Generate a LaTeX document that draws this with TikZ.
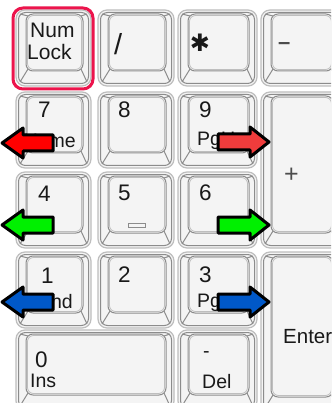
\documentclass[tikz,border=0pt]{standalone}
\usepackage{fontspec}
\setmainfont{Liberation Sans}
\newfontfamily\djv{DejaVu Sans}
\definecolor{keyfill}{RGB}{244,244,244}
\definecolor{keyline}{RGB}{140,140,140}
\definecolor{keylite}{RGB}{190,190,190}
\definecolor{nlred}{RGB}{236,20,76}
\definecolor{arred}{RGB}{255,0,0}
\definecolor{arred2}{RGB}{240,60,60}
\definecolor{argreen}{RGB}{0,240,0}
\definecolor{arblue}{RGB}{0,88,200}
\definecolor{txt}{RGB}{25,25,25}
\tikzset{
  lbl/.style={anchor=base west, inner sep=0pt, text=txt},
  dig/.style={lbl, font=\fontsize{22.5}{24}\selectfont},
  sub/.style={lbl, font=\fontsize{19.5}{21}\selectfont},
  arrowshape/.style={draw=black, line width=3pt, line join=round},
}
% x y w h : outer key; keytop insets: left 10, top 4, right 8, bottom 15
\newcommand\kbkey[4]{%
  \pgfmathsetmacro\kxa{#1}\pgfmathsetmacro\kya{#2}%
  \pgfmathsetmacro\kxb{#1+#3}\pgfmathsetmacro\kyb{#2+#4}%
  \pgfmathsetmacro\tla{#1+10}\pgfmathsetmacro\tta{#2+4}%
  \pgfmathsetmacro\tlb{#1+#3-8}\pgfmathsetmacro\ttb{#2+#4-15}%
  \filldraw[fill=keyfill, draw=keylite, line width=1.2pt, rounded corners=9pt] (\kxa,\kya) rectangle (\kxb,\kyb);
  \draw[keyline, line width=1pt, rounded corners=7pt] (\kxa+2.5,\kya+2.5) rectangle (\kxb-2.5,\kyb-2.5);
  \draw[keyline, line width=1pt] (\kxa+4,\kya+4) -- (\tla+2,\tta+2);
  \draw[keyline, line width=1pt] (\kxb-4,\kya+4) -- (\tlb-2,\tta+2);
  \draw[keyline, line width=1pt] (\kxa+4,\kyb-4) -- (\tla+2,\ttb-2);
  \draw[keyline, line width=1pt] (\kxb-4,\kyb-4) -- (\tlb-2,\ttb-2);
  \filldraw[fill=keyfill, draw=keyline, line width=1pt, rounded corners=7pt] (\tla,\tta) rectangle (\tlb,\ttb);
  \draw[keylite, line width=0.8pt, rounded corners=6pt] (\tla+1.5,\tta+1.5) rectangle (\tlb-1.5,\ttb-1.5);
}
\newcommand\leftarr[2]{% center y, colour
  \filldraw[arrowshape, fill=#2] (2,#1) -- (23,#1-15) -- (23,#1-8) -- (53,#1-8) -- (53,#1+8) -- (23,#1+8) -- (23,#1+15) -- cycle;}
\newcommand\rightarr[2]{%
  \filldraw[arrowshape, fill=#2] (269,#1) -- (250,#1-15) -- (250,#1-8) -- (218,#1-8) -- (218,#1+8) -- (250,#1+8) -- (250,#1+15) -- cycle;}
\begin{document}
\begin{tikzpicture}[x=1pt,y=-1pt]
\useasboundingbox (0,0) rectangle (331,403);
\fill[white] (0,0) rectangle (331,403);
\clip (0,0) rectangle (331,403);
% row 1
\kbkey{16}{10}{75}{76}
\kbkey{98}{10}{76}{76}
\kbkey{178}{10}{79}{76}
\kbkey{261}{10}{80}{76}
% rows 2-4
\foreach \yy in {92,172,252}{
  \kbkey{16}{\yy}{75}{76}
  \kbkey{98}{\yy}{76}{76}
  \kbkey{178}{\yy}{79}{76}
}
% big keys
\kbkey{261}{92}{80}{156}
\kbkey{261}{252}{80}{160}
% bottom row
\kbkey{16}{330}{158}{80}
\kbkey{178}{330}{79}{80}
% Num Lock highlight
\draw[nlred, line width=3pt, rounded corners=10pt] (13,8) rectangle (93,89);
% labels
\node[sub, font=\fontsize{21}{22}\selectfont] (num) at (30,38) {Num};
\node[sub, font=\fontsize{21}{22}\selectfont] (lock) at (27,60) {Lock};
\node[lbl, font=\fontsize{29}{30}\selectfont] (slash) at (114,55) {/};
\node[inner sep=0pt, text=txt, font=\djv\fontsize{24}{26}\selectfont] (star) at (200,43) {✱};
\node[lbl, text=black!70, font=\bfseries\fontsize{22}{26}\selectfont] (minus) at (278,49.5) {–};
\node[dig] (k7) at (38,118) {7};
\node[sub, anchor=base east] (home) at (76,148) {Home};
\node[dig] (k8) at (118,118) {8};
\node[dig] (k9) at (199,118) {9};
\node[sub] (pgup) at (197,146) {PgUp};
\node[dig] (k4) at (38,201) {4};
\node[dig] (k5) at (118,200) {5};
\draw[keyline, line width=1pt] (128,223) rectangle (145,227);
\node[dig] (k6) at (199,200) {6};
\node[lbl, text=black!70, font=\fontsize{25}{26}\selectfont] (plus) at (284,182.5) {+};
\node[dig] (k1) at (41,283) {1};
\node[sub, anchor=base east] (end) at (73,308) {End};
\node[dig] (k2) at (118,282) {2};
\node[dig] (k3) at (199,282) {3};
\node[sub] (pgdn) at (197,307) {PgDn};
\node[sub, font=\fontsize{20.5}{22}\selectfont] (enter) at (283,343) {Enter};
\node[dig] (k0) at (35,367) {0};
\node[sub] (ins) at (30,387) {Ins};
\node[sub] (dot) at (203,357.5) {-};
\node[sub] (del) at (202,388) {Del};
% arrows
\leftarr{143}{arred}
\leftarr{225}{argreen}
\leftarr{302}{arblue}
\rightarr{142}{arred2}
\rightarr{225}{argreen}
\rightarr{302}{arblue}
\end{tikzpicture}
\end{document}
